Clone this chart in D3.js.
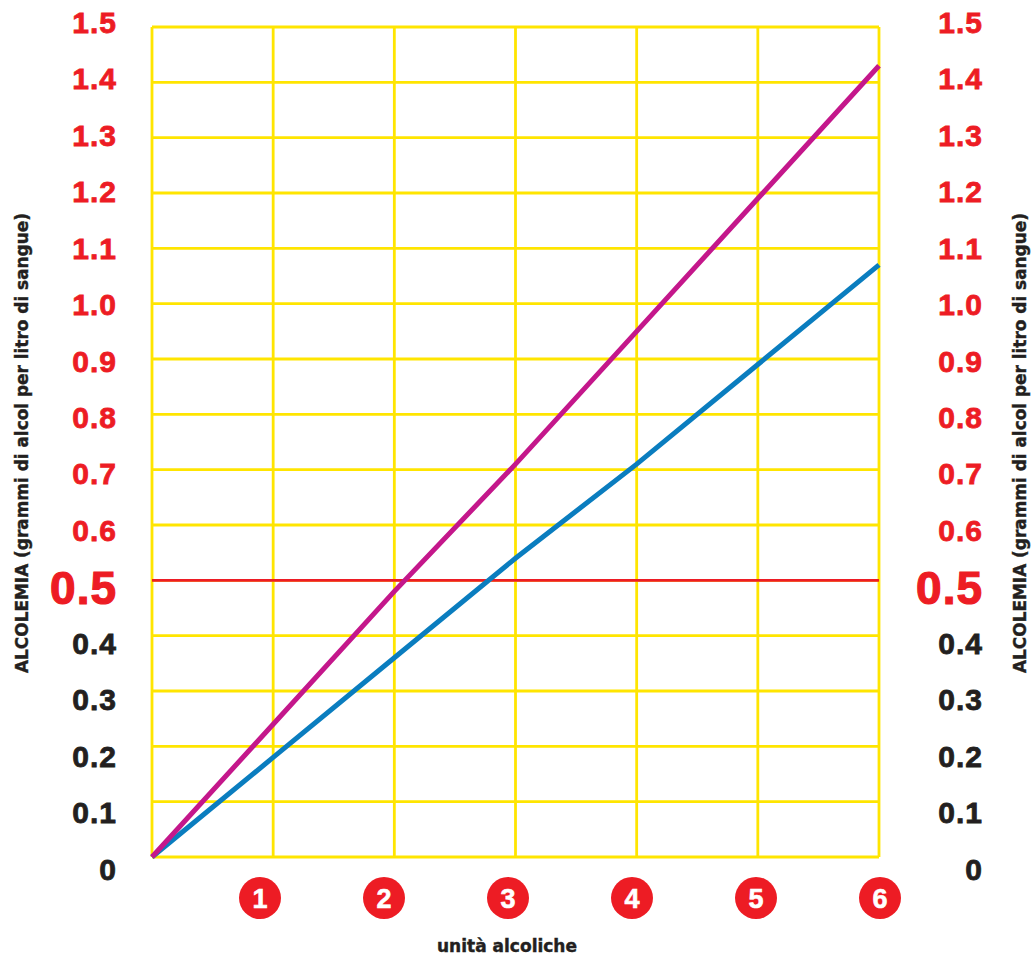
<!DOCTYPE html>
<html>
<head>
<meta charset="utf-8">
<script src="https://cdn.jsdelivr.net/npm/d3@7"></script>
<style>
  body { margin: 0; background: #fff; }
  text { font-family: "Liberation Sans", Arial, sans-serif; font-weight: bold; }
  .title { font-family: "DejaVu Sans Condensed", "DejaVu Sans", sans-serif; }
</style>
</head>
<body>
<script>
// units of alcohol (x) and blood alcohol values (g/l)
const units = [0, 1, 2, 3, 4, 5, 6]
const magentaLine = [0, 0.24, 0.48, 0.71, 0.95, 1.19, 1.43]
const blueLine = [0, 0.18, 0.36, 0.54, 0.71, 0.89, 1.07]
const yTicks = [0, 0.1, 0.2, 0.3, 0.4, 0.5, 0.6, 0.7, 0.8, 0.9, 1.0, 1.1, 1.2, 1.3, 1.4, 1.5]
const badges = [1, 2, 3, 4, 5, 6]
const limit = 0.5
const yTitle = "ALCOLEMIA (grammi di alcol per litro di sangue)"
const xTitle = "unità alcoliche"

const W = 1035, H = 958
const RED = "#ed1c24", BLACK = "#231f20", YELLOW = "#ffe500"

let svg = d3.select("body").append("svg")
    .attr("width", W)
    .attr("height", H)

let x = d3.scaleLinear().domain([0, 6]).range([152, 879])
let y = d3.scaleLinear().domain([0, 1.5]).range([857, 27])
// tick labels and badges sit on a slightly looser spacing than the grid
let yLab = d3.scaleLinear().domain([0, 1.5]).range([869, 22.5])
let xBadge = d3.scaleLinear().domain([1, 6]).range([260, 880])

/** yellow grid */
let grid = svg.append("g")
grid.selectAll("line.h")
    .data(yTicks)
    .enter().append("line")
    .attr("class", "h")
    .attr("x1", x(0)).attr("x2", x(6))
    .attr("y1", d => y(d)).attr("y2", d => y(d))
    .attr("stroke", YELLOW).attr("stroke-width", 2.8)
grid.selectAll("line.v")
    .data(units)
    .enter().append("line")
    .attr("class", "v")
    .attr("x1", d => x(d)).attr("x2", d => x(d))
    .attr("y1", y(0)).attr("y2", y(1.5))
    .attr("stroke", YELLOW).attr("stroke-width", 2.8)

/** red legal limit line */
svg.append("line")
    .attr("x1", x(0)).attr("x2", x(6))
    .attr("y1", y(limit)).attr("y2", y(limit))
    .attr("stroke", RED).attr("stroke-width", 2.6)

/** the two series */
let line = d3.line().x((d, i) => x(units[i])).y(d => y(d))
svg.append("path")
    .attr("d", line(blueLine))
    .attr("fill", "none").attr("stroke", "#0a7dbf").attr("stroke-width", 5)
svg.append("path")
    .attr("d", line(magentaLine))
    .attr("fill", "none").attr("stroke", "#c4178b").attr("stroke-width", 5)

/** tick labels both sides */
function tickLabels(xPos) {
    svg.append("g").selectAll("text")
        .data(yTicks)
        .enter().append("text")
        .attr("x", xPos)
        .attr("y", d => d === limit ? yLab(d) + 1 : yLab(d))
        .attr("text-anchor", "end")
        .attr("dominant-baseline", "central")
        .attr("letter-spacing", 1)
        .attr("font-size", d => d === limit ? 46 : 30)
        .attr("fill", d => d >= limit ? RED : BLACK)
        .attr("stroke", d => d >= limit ? RED : BLACK)
        .attr("stroke-width", d => d === limit ? 1.2 : 0.8)
        .text(d => d === 0 ? "0" : d.toFixed(1))
}
tickLabels(117)
tickLabels(983)

/** rotated axis titles */
for (let cx of [22, 1020]) {
    svg.append("text")
        .attr("class", "title")
        .attr("transform", `translate(${cx}, 443) rotate(-90)`)
        .attr("text-anchor", "middle")
        .attr("dominant-baseline", "central")
        .attr("font-size", 17)
        .attr("textLength", 460)
        .attr("lengthAdjust", "spacingAndGlyphs")
        .attr("fill", BLACK)
        .attr("stroke", BLACK).attr("stroke-width", 0.4)
        .text(yTitle)
}

/** numbered red badges */
let badge = svg.append("g").selectAll("g")
    .data(badges)
    .enter().append("g")
    .attr("transform", d => `translate(${xBadge(d)}, 898)`)
badge.append("circle")
    .attr("r", 21)
    .attr("fill", RED)
badge.append("text")
    .attr("text-anchor", "middle")
    .attr("dominant-baseline", "central")
    .attr("y", 1)
    .attr("font-size", 27)
    .attr("fill", "#fff")
    .attr("stroke", "#fff").attr("stroke-width", 0.6)
    .text(d => d)

svg.append("text")
    .attr("class", "title")
    .attr("x", 507).attr("y", 945)
    .attr("text-anchor", "middle")
    .attr("dominant-baseline", "central")
    .attr("font-size", 18)
    .attr("textLength", 140)
    .attr("lengthAdjust", "spacingAndGlyphs")
    .attr("fill", BLACK)
    .attr("stroke", BLACK).attr("stroke-width", 0.4)
    .text(xTitle)
</script>
</body>
</html>
